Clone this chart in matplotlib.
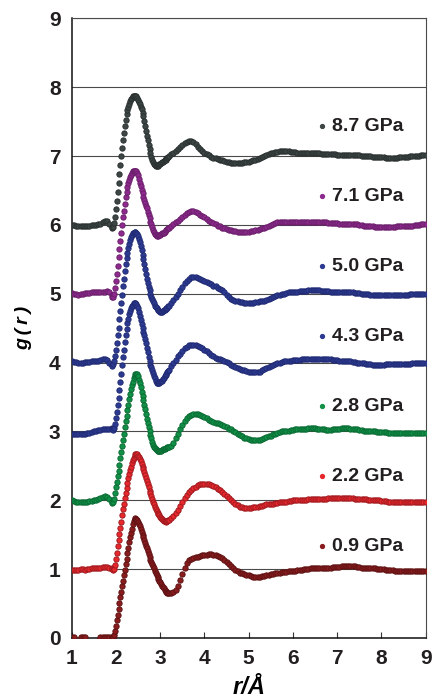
import numpy as np
import matplotlib.pyplot as plt

plt.rcParams['font.family'] = ['Liberation Sans', 'DejaVu Sans']
plt.rcParams['font.weight'] = 'bold'

# r grid in Angstrom: 0.05 step before and after the first peak, 0.02 step over it
R = np.concatenate([np.linspace(1.00, 1.85, 18),
                    np.linspace(1.90, 3.18, 65),
                    np.linspace(3.20, 9.00, 117)])

LABELS = ['0.9 GPa', '2.2 GPa', '2.8 GPa', '4.3 GPa', '5.0 GPa', '7.1 GPa', '8.7 GPa']
OFFSETS = [0, 1, 2, 3, 4, 5, 6]
COLORS = ['#8a1c1e', '#e8282d', '#109147', '#2d3a92', '#2d3a92', '#8e2a8e', '#3d4545']
EDGES = ['#5e1213', '#a01a1f', '#0a6a33', '#202a72', '#202a72', '#6a1f6a', '#2a3030']

# g(r) values (without the vertical offset)
G_09 = [0.02, 0.02, -0.06, -0.08, 0.02, 0.02, 0.02, -0.06, -0.10, -0.10, -0.10, -0.08, -0.04, 0.02, 0.02, 0.02, 0.02, 0.02,
        0.02, 0.02, 0.02, 0.04, 0.10, 0.18, 0.26, 0.34, 0.42, 0.51, 0.59, 0.67, 0.75,
        0.83, 0.91, 0.99, 1.07, 1.15, 1.23, 1.31, 1.39, 1.46, 1.53, 1.59, 1.65, 1.70,
        1.73, 1.74, 1.73, 1.71, 1.68, 1.65, 1.62, 1.58, 1.54, 1.50, 1.46, 1.42, 1.38,
        1.34, 1.30, 1.26, 1.22, 1.18, 1.14, 1.11, 1.07, 1.04, 1.01, 0.98, 0.95, 0.92,
        0.89, 0.86, 0.83, 0.81, 0.78, 0.76, 0.74, 0.72, 0.70, 0.68, 0.67, 0.66, 0.65,
        0.65, 0.65, 0.67, 0.70, 0.76, 0.84, 0.93, 1.02, 1.09, 1.13, 1.15, 1.16, 1.17, 1.18, 1.19, 1.20, 1.21, 1.21, 1.22, 1.22,
        1.21, 1.21, 1.19, 1.18, 1.16, 1.13, 1.10, 1.07, 1.04, 1.01, 0.99, 0.97, 0.95, 0.94, 0.93, 0.92, 0.91, 0.90, 0.89, 0.89,
        0.89, 0.89, 0.90, 0.90, 0.91, 0.92, 0.93, 0.93, 0.94, 0.95, 0.95, 0.96, 0.96, 0.96, 0.97, 0.97, 0.98, 0.98, 0.99, 0.99,
        0.99, 1.00, 1.00, 1.00, 1.01, 1.01, 1.01, 1.01, 1.01, 1.02, 1.02, 1.02, 1.02, 1.02, 1.03, 1.03, 1.03, 1.03, 1.04, 1.04,
        1.04, 1.05, 1.05, 1.04, 1.04, 1.03, 1.03, 1.02, 1.02, 1.02, 1.01, 1.01, 1.01, 1.01, 1.00, 1.00, 1.00, 1.00, 0.99, 0.99,
        0.99, 0.99, 0.98, 0.98, 0.98, 0.98, 0.98, 0.98, 0.98, 0.98, 0.98, 0.98, 0.98, 0.98, 0.98, 0.98, 0.98]

G_22 = [-0.01, -0.01, -0.01, -0.01, 0.00, 0.00, -0.01, 0.00, 0.00, 0.01, 0.01, 0.01, 0.02, 0.02, 0.03, 0.03, 0.03, 0.02,
        0.01, 0.00, -0.01, 0.00, 0.06, 0.15, 0.24, 0.33, 0.42, 0.51, 0.60, 0.69, 0.78,
        0.87, 0.95, 1.03, 1.11, 1.18, 1.25, 1.32, 1.38, 1.44, 1.49, 1.54, 1.58, 1.62,
        1.65, 1.67, 1.68, 1.67, 1.65, 1.63, 1.60, 1.57, 1.53, 1.49, 1.45, 1.41, 1.37,
        1.32, 1.28, 1.23, 1.19, 1.14, 1.10, 1.06, 1.02, 0.98, 0.94, 0.91, 0.88, 0.85,
        0.82, 0.80, 0.78, 0.76, 0.74, 0.73, 0.71, 0.70, 0.70, 0.69, 0.70, 0.70, 0.71,
        0.72, 0.74, 0.77, 0.81, 0.86, 0.92, 0.98, 1.03, 1.08, 1.12, 1.15, 1.18, 1.20, 1.22, 1.23, 1.24, 1.24, 1.24, 1.23, 1.22,
        1.21, 1.19, 1.17, 1.15, 1.12, 1.09, 1.06, 1.03, 1.00, 0.97, 0.95, 0.93, 0.91, 0.90, 0.89, 0.89, 0.89, 0.89, 0.90, 0.90,
        0.91, 0.92, 0.92, 0.93, 0.94, 0.94, 0.95, 0.95, 0.96, 0.96, 0.97, 0.97, 0.98, 0.98, 0.99, 0.99, 1.00, 1.00, 1.00, 1.01,
        1.01, 1.01, 1.01, 1.02, 1.02, 1.02, 1.02, 1.02, 1.02, 1.02, 1.02, 1.02, 1.03, 1.03, 1.03, 1.03, 1.03, 1.03, 1.03, 1.03,
        1.03, 1.03, 1.03, 1.03, 1.02, 1.02, 1.02, 1.02, 1.02, 1.02, 1.01, 1.01, 1.01, 1.00, 1.00, 1.00, 0.99, 0.99, 0.99, 0.98,
        0.98, 0.98, 0.98, 0.97, 0.97, 0.97, 0.97, 0.97, 0.97, 0.97, 0.97, 0.97, 0.97, 0.98, 0.98, 0.98, 0.98]

G_28 = [0.00, -0.01, -0.02, -0.03, -0.03, -0.02, -0.02, -0.02, -0.01, -0.01, 0.00, 0.01, 0.02, 0.03, 0.05, 0.06, 0.05, 0.02,
        -0.02, -0.04, -0.03, 0.02, 0.10, 0.19, 0.27, 0.35, 0.43, 0.52, 0.61, 0.70, 0.79,
        0.88, 0.97, 1.06, 1.15, 1.23, 1.31, 1.39, 1.47, 1.54, 1.61, 1.67, 1.72, 1.77,
        1.80, 1.83, 1.84, 1.83, 1.80, 1.75, 1.70, 1.64, 1.58, 1.52, 1.46, 1.39, 1.32,
        1.25, 1.18, 1.12, 1.06, 1.00, 0.95, 0.90, 0.85, 0.81, 0.78, 0.76, 0.74, 0.73,
        0.72, 0.72, 0.72, 0.72, 0.72, 0.73, 0.74, 0.75, 0.75, 0.76, 0.76, 0.77, 0.77,
        0.78, 0.79, 0.83, 0.90, 0.97, 1.04, 1.10, 1.15, 1.19, 1.22, 1.24, 1.25, 1.26, 1.25, 1.24, 1.23, 1.21, 1.19, 1.17, 1.15,
        1.14, 1.13, 1.12, 1.11, 1.10, 1.08, 1.06, 1.04, 1.03, 1.01, 0.99, 0.97, 0.95, 0.93, 0.91, 0.90, 0.89, 0.88, 0.87, 0.87,
        0.88, 0.88, 0.89, 0.90, 0.92, 0.93, 0.94, 0.96, 0.97, 0.98, 0.99, 1.00, 1.00, 1.01, 1.01, 1.02, 1.02, 1.03, 1.03, 1.03,
        1.04, 1.04, 1.04, 1.05, 1.05, 1.05, 1.05, 1.04, 1.04, 1.03, 1.03, 1.02, 1.02, 1.02, 1.03, 1.03, 1.04, 1.04, 1.05, 1.05,
        1.05, 1.05, 1.04, 1.04, 1.03, 1.03, 1.02, 1.02, 1.01, 1.01, 1.01, 1.00, 1.00, 1.00, 0.99, 0.99, 0.99, 0.99, 0.99, 0.98,
        0.98, 0.98, 0.98, 0.98, 0.98, 0.98, 0.98, 0.98, 0.98, 0.98, 0.98, 0.98, 0.98, 0.98, 0.98, 0.98, 0.98]

G_43 = [-0.03, -0.03, -0.04, -0.04, -0.04, -0.03, -0.03, -0.02, -0.02, -0.01, 0.00, 0.01, 0.02, 0.02, 0.03, 0.03, 0.03, 0.04,
        0.05, 0.03, 0.02, 0.05, 0.11, 0.19, 0.28, 0.38, 0.49, 0.60, 0.72, 0.84, 0.96,
        1.08, 1.19, 1.30, 1.40, 1.49, 1.57, 1.64, 1.70, 1.75, 1.79, 1.82, 1.84, 1.86,
        1.86, 1.86, 1.85, 1.83, 1.79, 1.74, 1.68, 1.62, 1.56, 1.50, 1.45, 1.40, 1.35,
        1.29, 1.22, 1.15, 1.08, 1.02, 0.97, 0.93, 0.89, 0.85, 0.81, 0.77, 0.73, 0.71,
        0.70, 0.70, 0.71, 0.72, 0.73, 0.74, 0.76, 0.78, 0.80, 0.82, 0.84, 0.86, 0.88,
        0.90, 0.95, 0.99, 1.04, 1.09, 1.13, 1.17, 1.21, 1.23, 1.25, 1.26, 1.26, 1.25, 1.24, 1.23, 1.21, 1.19, 1.17, 1.14, 1.11,
        1.09, 1.07, 1.06, 1.05, 1.04, 1.03, 1.01, 0.99, 0.97, 0.95, 0.93, 0.92, 0.91, 0.90, 0.89, 0.88, 0.87, 0.87, 0.86, 0.86,
        0.86, 0.87, 0.89, 0.91, 0.92, 0.94, 0.95, 0.97, 0.98, 0.99, 1.00, 1.01, 1.02, 1.02, 1.03, 1.03, 1.04, 1.04, 1.04, 1.04,
        1.05, 1.05, 1.05, 1.05, 1.05, 1.05, 1.05, 1.05, 1.05, 1.05, 1.05, 1.05, 1.05, 1.05, 1.04, 1.04, 1.04, 1.03, 1.03, 1.03,
        1.02, 1.02, 1.02, 1.01, 1.01, 1.00, 1.00, 0.99, 0.99, 0.98, 0.98, 0.98, 0.97, 0.97, 0.97, 0.97, 0.97, 0.97, 0.98, 0.98,
        0.98, 0.98, 0.98, 0.98, 0.98, 0.98, 0.98, 0.98, 0.98, 0.98, 0.99, 0.99, 0.99, 0.99, 1.00, 1.00, 1.00]

G_50 = [0.02, 0.01, 0.01, 0.00, 0.00, 0.00, 0.01, 0.01, 0.01, 0.02, 0.02, 0.02, 0.03, 0.04, 0.05, 0.05, 0.04, 0.00,
        -0.04, -0.05, -0.02, 0.03, 0.10, 0.19, 0.29, 0.40, 0.51, 0.63, 0.75, 0.87, 0.99,
        1.11, 1.22, 1.33, 1.43, 1.52, 1.60, 1.67, 1.73, 1.78, 1.82, 1.85, 1.88, 1.89,
        1.90, 1.90, 1.89, 1.87, 1.84, 1.80, 1.75, 1.70, 1.64, 1.57, 1.50, 1.43, 1.36,
        1.29, 1.22, 1.16, 1.10, 1.05, 1.00, 0.96, 0.92, 0.89, 0.86, 0.83, 0.81, 0.79,
        0.77, 0.76, 0.75, 0.74, 0.74, 0.74, 0.75, 0.76, 0.77, 0.78, 0.79, 0.80, 0.82,
        0.83, 0.87, 0.91, 0.95, 1.00, 1.05, 1.10, 1.15, 1.19, 1.22, 1.24, 1.25, 1.24, 1.23, 1.21, 1.20, 1.18, 1.17, 1.15, 1.14,
        1.12, 1.11, 1.09, 1.07, 1.05, 1.02, 0.99, 0.96, 0.93, 0.91, 0.90, 0.89, 0.88, 0.88, 0.87, 0.87, 0.87, 0.87, 0.87, 0.88,
        0.88, 0.89, 0.90, 0.90, 0.91, 0.93, 0.94, 0.96, 0.97, 0.98, 0.99, 1.00, 1.00, 1.01, 1.02, 1.02, 1.03, 1.03, 1.03, 1.04,
        1.04, 1.04, 1.04, 1.05, 1.05, 1.05, 1.05, 1.05, 1.05, 1.04, 1.04, 1.04, 1.04, 1.03, 1.03, 1.03, 1.03, 1.03, 1.02, 1.02,
        1.02, 1.02, 1.02, 1.02, 1.01, 1.01, 1.01, 1.00, 1.00, 1.00, 1.00, 0.99, 0.99, 0.99, 0.99, 0.98, 0.98, 0.98, 0.99, 0.99,
        0.99, 0.99, 0.99, 0.99, 0.99, 0.99, 0.99, 0.99, 0.99, 1.00, 1.00, 1.00, 1.00, 1.00, 1.00, 1.00, 1.00]

G_71 = [0.01, 0.00, 0.00, -0.01, 0.00, 0.00, 0.01, 0.01, 0.01, 0.02, 0.02, 0.02, 0.02, 0.03, 0.03, 0.03, 0.04, 0.02,
        -0.02, -0.05, -0.05, 0.00, 0.08, 0.18, 0.29, 0.41, 0.53, 0.65, 0.77, 0.89, 1.00,
        1.11, 1.21, 1.31, 1.40, 1.48, 1.55, 1.61, 1.66, 1.70, 1.73, 1.76, 1.78, 1.79,
        1.79, 1.79, 1.78, 1.76, 1.72, 1.67, 1.61, 1.56, 1.51, 1.46, 1.41, 1.36, 1.32,
        1.28, 1.24, 1.19, 1.15, 1.10, 1.05, 1.01, 0.97, 0.93, 0.90, 0.87, 0.85, 0.84,
        0.84, 0.85, 0.86, 0.86, 0.87, 0.88, 0.88, 0.89, 0.90, 0.92, 0.93, 0.94, 0.95,
        0.96, 0.99, 1.01, 1.04, 1.06, 1.09, 1.11, 1.14, 1.17, 1.19, 1.20, 1.20, 1.19, 1.17, 1.15, 1.13, 1.11, 1.08, 1.06, 1.04,
        1.03, 1.01, 0.99, 0.98, 0.96, 0.95, 0.94, 0.93, 0.92, 0.91, 0.91, 0.90, 0.90, 0.90, 0.90, 0.90, 0.90, 0.91, 0.91, 0.92,
        0.93, 0.94, 0.95, 0.96, 0.97, 0.99, 1.00, 1.02, 1.03, 1.04, 1.04, 1.05, 1.05, 1.05, 1.05, 1.05, 1.05, 1.05, 1.05, 1.05,
        1.05, 1.05, 1.05, 1.05, 1.05, 1.05, 1.05, 1.05, 1.04, 1.04, 1.04, 1.04, 1.03, 1.03, 1.03, 1.03, 1.03, 1.02, 1.02, 1.02,
        1.02, 1.02, 1.02, 1.01, 1.01, 1.01, 1.00, 1.00, 0.99, 0.99, 0.98, 0.98, 0.98, 0.97, 0.97, 0.97, 0.97, 0.97, 0.97, 0.97,
        0.97, 0.97, 0.97, 0.98, 0.98, 0.98, 0.98, 0.99, 0.99, 0.99, 0.99, 1.00, 1.00, 1.00, 1.01, 1.01, 1.02]

G_87 = [0.00, 0.00, -0.01, -0.01, -0.01, -0.01, -0.01, -0.01, -0.01, 0.00, 0.00, 0.00, 0.01, 0.02, 0.04, 0.06, 0.06, 0.02,
        -0.03, -0.05, -0.03, 0.03, 0.12, 0.23, 0.35, 0.48, 0.61, 0.74, 0.87, 1.00, 1.12,
        1.23, 1.34, 1.44, 1.53, 1.61, 1.67, 1.72, 1.76, 1.80, 1.83, 1.85, 1.87, 1.88,
        1.88, 1.88, 1.87, 1.85, 1.82, 1.79, 1.76, 1.72, 1.68, 1.63, 1.58, 1.51, 1.44,
        1.37, 1.30, 1.23, 1.16, 1.10, 1.04, 0.99, 0.95, 0.92, 0.89, 0.87, 0.86, 0.85,
        0.86, 0.87, 0.88, 0.89, 0.90, 0.91, 0.92, 0.93, 0.94, 0.95, 0.97, 0.98, 0.99,
        1.00, 1.03, 1.05, 1.08, 1.10, 1.13, 1.16, 1.19, 1.21, 1.22, 1.22, 1.20, 1.17, 1.14, 1.11, 1.08, 1.05, 1.03, 1.01, 0.99,
        0.98, 0.97, 0.96, 0.95, 0.94, 0.93, 0.92, 0.91, 0.90, 0.90, 0.90, 0.90, 0.90, 0.90, 0.91, 0.91, 0.92, 0.93, 0.94, 0.95,
        0.96, 0.97, 0.99, 1.00, 1.02, 1.03, 1.04, 1.05, 1.06, 1.06, 1.07, 1.07, 1.07, 1.07, 1.07, 1.06, 1.06, 1.06, 1.05, 1.05,
        1.05, 1.05, 1.05, 1.05, 1.04, 1.04, 1.04, 1.04, 1.04, 1.03, 1.03, 1.03, 1.03, 1.03, 1.03, 1.03, 1.02, 1.02, 1.02, 1.02,
        1.02, 1.02, 1.02, 1.01, 1.01, 1.01, 1.01, 1.00, 1.00, 1.00, 1.00, 1.00, 0.99, 0.99, 0.99, 0.99, 0.99, 0.99, 0.98, 0.98,
        0.98, 0.98, 0.98, 0.98, 0.99, 0.99, 0.99, 0.99, 0.99, 1.00, 1.00, 1.00, 1.00, 1.00, 1.01, 1.01, 1.01]

CURVES = [G_09, G_22, G_28, G_43, G_50, G_71, G_87]

fig = plt.figure(figsize=(4.32, 6.98), dpi=100)
ax = fig.add_axes([0.166, 0.086, 0.8194, 0.8875])

for i, g in enumerate(CURVES):
    assert len(g) == len(R), (LABELS[i], len(g))
    ax.plot(R, np.array(g) + OFFSETS[i], 'o', ms=3.8, mfc=COLORS[i], mec=EDGES[i], mew=0.7, zorder=3)
    # legend entry: small dot + label, stacked like a legend box
    y_lab = 1.33 + i * 1.017
    ax.plot([6.66], [y_lab], 'o', ms=2.8, mfc=COLORS[i], mec=COLORS[i], zorder=3)
    ax.text(6.88, y_lab, LABELS[i], fontsize=14, fontweight='bold', color='#231f20',
            va='center', ha='left')

ax.set_xlim(1, 9)
ax.set_ylim(0, 9)
ax.set_xticks(range(1, 10))
ax.set_yticks(range(0, 10))
ax.yaxis.grid(True, color='#4a4a4a', lw=0.8)
ax.set_axisbelow(True)

ax.tick_params(axis='x', direction='in', length=4, width=0.8, pad=8, labelsize=15,
               labelcolor='#231f20', color='#333333')
ax.tick_params(axis='y', length=0, pad=8, labelsize=15, labelcolor='#231f20')

for s in ['left', 'bottom']:
    ax.spines[s].set_color('#111111')
    ax.spines[s].set_linewidth(1.1)
for s in ['top', 'right']:
    ax.spines[s].set_color('#4a4a4a')
    ax.spines[s].set_linewidth(0.8)

ax.set_xlabel('r/Å', fontsize=17, fontstyle='italic', fontweight='bold', labelpad=6)
ax.set_ylabel('g\u2009(\u2009r\u2009)', fontsize=14, fontstyle='italic', fontweight='bold', labelpad=12)

fig.savefig('out.png', dpi=100)
